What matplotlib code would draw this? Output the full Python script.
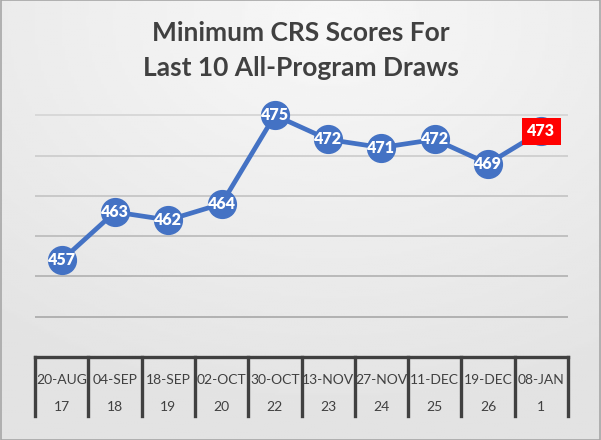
import matplotlib.pyplot as plt
import numpy as np

# data
dates = ["20-AUG", "04-SEP", "18-SEP", "02-OCT", "30-OCT",
         "13-NOV", "27-NOV", "11-DEC", "19-DEC", "08-JAN"]
draw_nums = ["17", "18", "19", "20", "22", "23", "24", "25", "26", "1"]
scores = [457, 463, 462, 464, 475, 472, 471, 472, 469, 473]

BLUE = "#4472C4"
DARK = "#404040"
FONT = "Lato"

fig = plt.figure(figsize=(6.01, 4.40), dpi=100)

# soft gradient background
bg = fig.add_axes([0, 0, 1, 1], zorder=-10)
yy, xx = np.mgrid[0:1:200j, 0:1:200j]
r = np.sqrt(((xx - 0.55) / 0.9) ** 2 + ((yy - 0.05) / 0.9) ** 2)
bg.imshow(0.97 - 0.08 * np.clip(r, 0, 1), cmap="gray", vmin=0, vmax=1,
          aspect="auto", extent=[0, 1, 0, 1], origin="upper")
bg.set_axis_off()
fig.add_artist(plt.Rectangle((0.001, 0.001), 0.998, 0.998, transform=fig.transFigure,
                             fill=False, edgecolor="#a6a6a6", linewidth=1.2))

ax = fig.add_axes([35 / 601, 83 / 440, 533 / 601, 282 / 440])
ax.set_facecolor("none")
x = np.arange(len(scores))
ax.set_xlim(-0.5, len(scores) - 0.5)
ax.set_ylim(445, 480)

grid_cols = ["#adadad", "#b5b5b5", "#bdbdbd", "#c6c6c6", "#cecece", "#d6d6d6"]
for g, c in zip(range(450, 480, 5), grid_cols):
    ax.axhline(g, color=c, linewidth=1.3, zorder=1)

ax.plot(x, scores, color=BLUE, linewidth=3.4, marker="o", markersize=20,
        markerfacecolor=BLUE, markeredgecolor=BLUE, zorder=3)

for xi, s in zip(x[:-1], scores[:-1]):
    ax.text(xi, s, str(s), ha="center", va="center", color="white",
            fontsize=11.5, fontweight="heavy", family=FONT, zorder=4)
ax.text(x[-1], scores[-1], str(scores[-1]), ha="center", va="center", color="white",
        fontsize=11.5, fontweight="heavy", family=FONT, zorder=5,
        bbox=dict(boxstyle="square,pad=0.35", facecolor="#FF0000", edgecolor="none"))

for side in ["top", "right", "left", "bottom"]:
    ax.spines[side].set_visible(False)
ax.set_xticks([])
ax.set_yticks([])

# table-like category axis below the plot
trans = ax.get_xaxis_transform()
ax.plot([-0.5, len(scores) - 0.5], [0, 0], color=DARK, linewidth=2.4,
        transform=trans, clip_on=False, solid_capstyle="projecting")
for b in np.arange(-0.5, len(scores), 1.0):
    ax.plot([b, b], [0, -0.21], color=DARK, linewidth=2.4,
            transform=trans, clip_on=False)
for xi, d, n in zip(x, dates, draw_nums):
    ax.text(xi, -0.08, d, ha="center", va="center", fontsize=10,
            color=DARK, family=FONT, transform=trans)
    ax.text(xi, -0.178, n, ha="center", va="center", fontsize=10,
            color=DARK, family=FONT, transform=trans)

fig.text(0.5, 0.925, "Minimum CRS Scores For", ha="center", va="center",
         fontsize=19, fontweight="bold", color=DARK, family=FONT)
fig.text(0.5, 0.845, "Last 10 All-Program Draws", ha="center", va="center",
         fontsize=19, fontweight="bold", color=DARK, family=FONT)

fig.savefig("out.png", dpi=100)
